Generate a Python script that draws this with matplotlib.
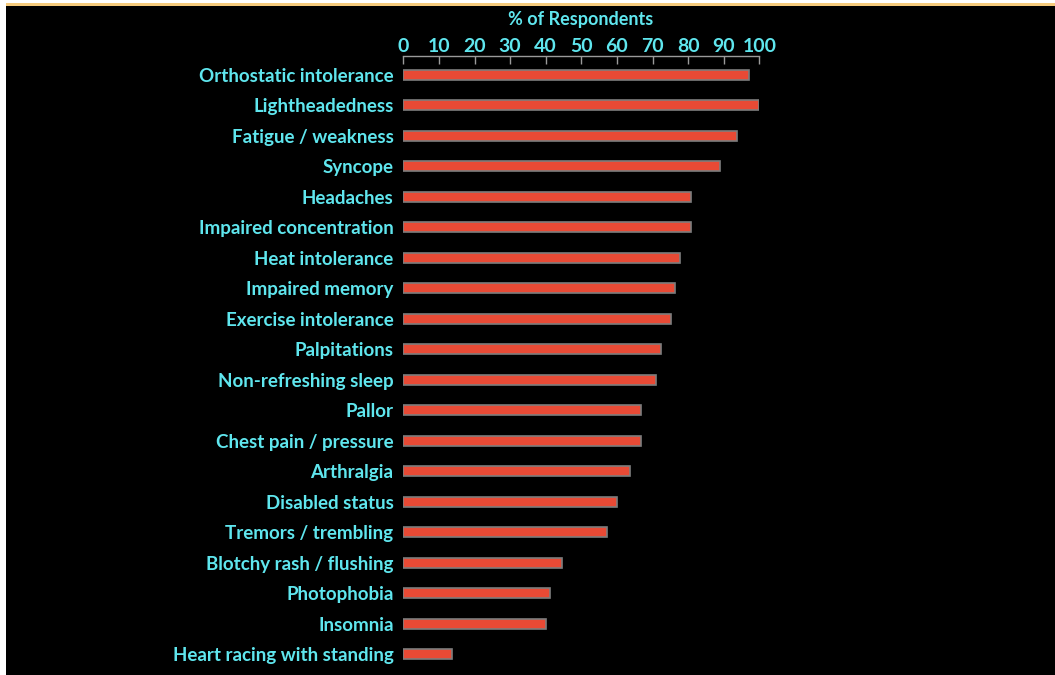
import matplotlib.pyplot as plt
from matplotlib.patches import Rectangle

# symptoms, top to bottom
symptoms = [
    "Orthostatic intolerance", "Lightheadedness", "Fatigue / weakness",
    "Syncope", "Headaches", "Impaired concentration", "Heat intolerance",
    "Impaired memory", "Exercise intolerance", "Palpitations",
    "Non-refreshing sleep", "Pallor", "Chest pain / pressure", "Arthralgia",
    "Disabled status", "Tremors / trembling", "Blotchy rash / flushing",
    "Photophobia", "Insomnia", "Heart racing with standing",
]
percent = [97.1, 100, 93.6, 89.0, 80.7, 80.8, 77.8, 76.3, 75.1, 72.5,
           70.9, 66.8, 66.8, 63.8, 60.1, 57.2, 44.6, 41.3, 40.1, 13.7]
xticks = [0, 10, 20, 30, 40, 50, 60, 70, 80, 90, 100]

cyan = '#5fe6ee'
font = 'Lato'

fig = plt.figure(figsize=(10.55, 6.75), dpi=100, facecolor='black')

# white margins and orange top rule
fig.patches.append(Rectangle((0, 0), 6 / 1055, 1, transform=fig.transFigure,
                             facecolor='white', edgecolor='none'))
fig.patches.append(Rectangle((6 / 1055, 1 - 2.7 / 675), 1, 2.7 / 675,
                             transform=fig.transFigure,
                             facecolor='white', edgecolor='none'))
fig.patches.append(Rectangle((6 / 1055, 1 - 5.7 / 675), 1, 3 / 675,
                             transform=fig.transFigure,
                             facecolor='#f6cb7c', edgecolor='none'))

ax = fig.add_axes([403.3 / 1055, 1 - 669 / 675, 356 / 1055, 613 / 675])
ax.set_facecolor('black')

ypos = list(range(len(symptoms)))
ax.barh(ypos, percent, height=0.33, color='#e84a35', edgecolor='#7d7d7d',
        linewidth=1.2)

ax.set_xlim(0, 100)
ax.set_ylim(19.49, -0.62)

ax.xaxis.tick_top()
ax.set_xticks(xticks)
ax.set_xticklabels([str(t) for t in xticks], color=cyan, fontsize=14,
                   fontfamily=font, fontweight='bold')
ax.tick_params(axis='x', direction='in', length=6, width=1, color='#9a9a9a',
               pad=1)
ax.set_yticks(ypos)
ax.set_yticklabels(symptoms, color=cyan, fontsize=13.5, fontfamily=font,
                   fontweight='bold')
ax.tick_params(axis='y', length=0, pad=7)

for s in ['left', 'right', 'bottom']:
    ax.spines[s].set_visible(False)
ax.spines['top'].set_color('#9a9a9a')
ax.spines['top'].set_linewidth(1)

fig.text(581 / 1055, 1 - 19 / 675, '% of Respondents', color=cyan,
         fontsize=13, fontfamily=font, fontweight='bold',
         ha='center', va='center')

fig.savefig('out.png', dpi=100, facecolor='black')
